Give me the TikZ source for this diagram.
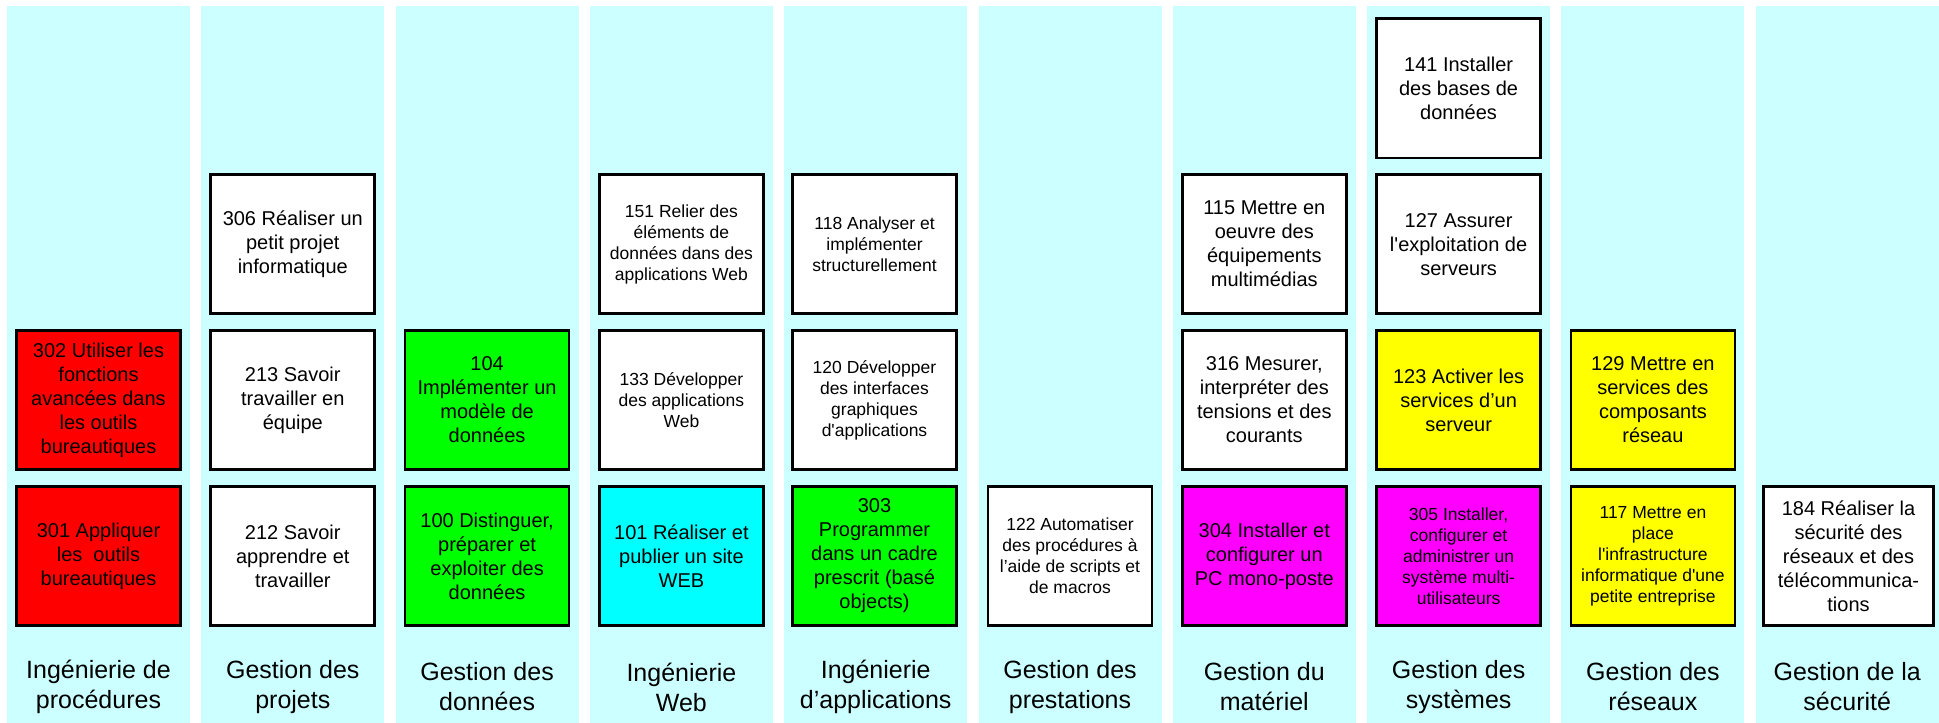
\documentclass[tikz,border=0pt]{standalone}
\usepackage{fontspec}
\setmainfont{Liberation Sans}
\usepackage{xcolor}
\usetikzlibrary{positioning}
\definecolor{fond}{HTML}{CCFFFF}
\definecolor{rouge}{HTML}{FF0000}
\definecolor{vert}{HTML}{00FF00}
\definecolor{turquoise}{HTML}{00FFFF}
\definecolor{jaune}{HTML}{FFFF00}
\definecolor{rose}{HTML}{FF00FF}

\begin{document}
\begin{tikzpicture}[x=0.5pt, y=-0.5pt, node distance=7pt,
  module/.style={draw, line width=1.35pt, fill=white, align=center, inner sep=2pt,
    minimum width=82pt, minimum height=69.6pt, font=\fontsize{10}{12}\selectfont},
  petit/.style={font=\fontsize{8.75}{10.5}\selectfont},
  domaine/.style={align=center, font=\fontsize{12.5}{15}\selectfont}]
  \useasboundingbox (0,0) rectangle (1939,723);
  % colonnes et domaines
  \foreach \i/\nom in {1/{Ingénierie de\\procédures}, 2/{Gestion des\\projets},
      3/{Gestion des\\données}, 4/{Ingénierie\\Web}, 5/{Ingénierie\\d’applications},
      6/{Gestion des\\prestations}, 7/{Gestion du\\matériel}, 8/{Gestion des\\systèmes},
      9/{Gestion des\\réseaux}, 10/{Gestion de la\\sécurité}} {
    \fill[fond] ({7+194.3*(\i-1)},6) rectangle ({190+194.3*(\i-1)},723);
    \node[domaine] (dom\i) at ({98.5+194.3*(\i-1)},687) {\nom};
  }
  % modules
  \node[module, fill=rouge] (c301) at (98.5,556) {301 Appliquer\\les\ \ outils\\bureautiques};
  \node[module, fill=rouge, above=of c301] (c302) {302 Utiliser les\\fonctions\\avancées dans\\les outils\\bureautiques};
  \node[module] (c212) at (292.8,556) {212 Savoir\\apprendre et\\travailler};
  \node[module, above=of c212] (c213) {213 Savoir\\travailler en\\équipe};
  \node[module, above=of c213] (c306) {306 Réaliser un\\petit projet\\informatique};
  \node[module, fill=vert] (c100) at (487.1,556) {100 Distinguer,\\préparer et\\exploiter des\\données};
  \node[module, fill=vert, above=of c100] (c104) {104\\Implémenter un\\modèle de\\données};
  \node[module, fill=turquoise] (c101) at (681.4,556) {101 Réaliser et\\publier un site\\WEB};
  \node[module, petit, above=of c101] (c133) {133 Développer\\des applications\\Web};
  \node[module, petit, above=of c133] (c151) {151 Relier des\\éléments de\\données dans des\\applications Web};
  \node[module, fill=vert] (c303) at (874.5,556) {303\\Programmer\\dans un cadre\\prescrit (basé\\objects)};
  \node[module, petit, above=of c303] (c120) {120 Développer\\des interfaces\\graphiques\\d\textquotesingle applications};
  \node[module, petit, above=of c120] (c118) {118 Analyser et\\implémenter\\structurellement};
  \node[module, petit] (c122) at (1070,556) {122 Automatiser\\des procédures à\\l’aide de scripts et\\de macros};
  \node[module, fill=rose] (c304) at (1264.3,556) {304 Installer et\\configurer un\\PC mono-poste};
  \node[module, above=of c304] (c316) {316 Mesurer,\\interpréter des\\tensions et des\\courants};
  \node[module, above=of c316] (c115) {115 Mettre en\\oeuvre des\\équipements\\multimédias};
  \node[module, petit, fill=rose] (c305) at (1458.6,556) {305 Installer,\\configurer et\\administrer un\\système multi-\\utilisateurs};
  \node[module, fill=jaune, above=of c305] (c123) {123 Activer les\\services d’un\\serveur};
  \node[module, above=of c123] (c127) {127 Assurer\\l\textquotesingle exploitation de\\serveurs};
  \node[module, above=of c127] (c141) {141 Installer\\des bases de\\données};
  \node[module, petit, fill=jaune] (c117) at (1652.9,556) {117 Mettre en\\place\\l\textquotesingle infrastructure\\informatique d\textquotesingle une\\petite entreprise};
  \node[module, fill=jaune, above=of c117] (c129) {129 Mettre en\\services des\\composants\\réseau};
  \node[module, minimum width=85pt] (c184) at (1848.5,556) {184 Réaliser la\\sécurité des\\réseaux et des\\télécommunica-\\tions};
\end{tikzpicture}
\end{document}
